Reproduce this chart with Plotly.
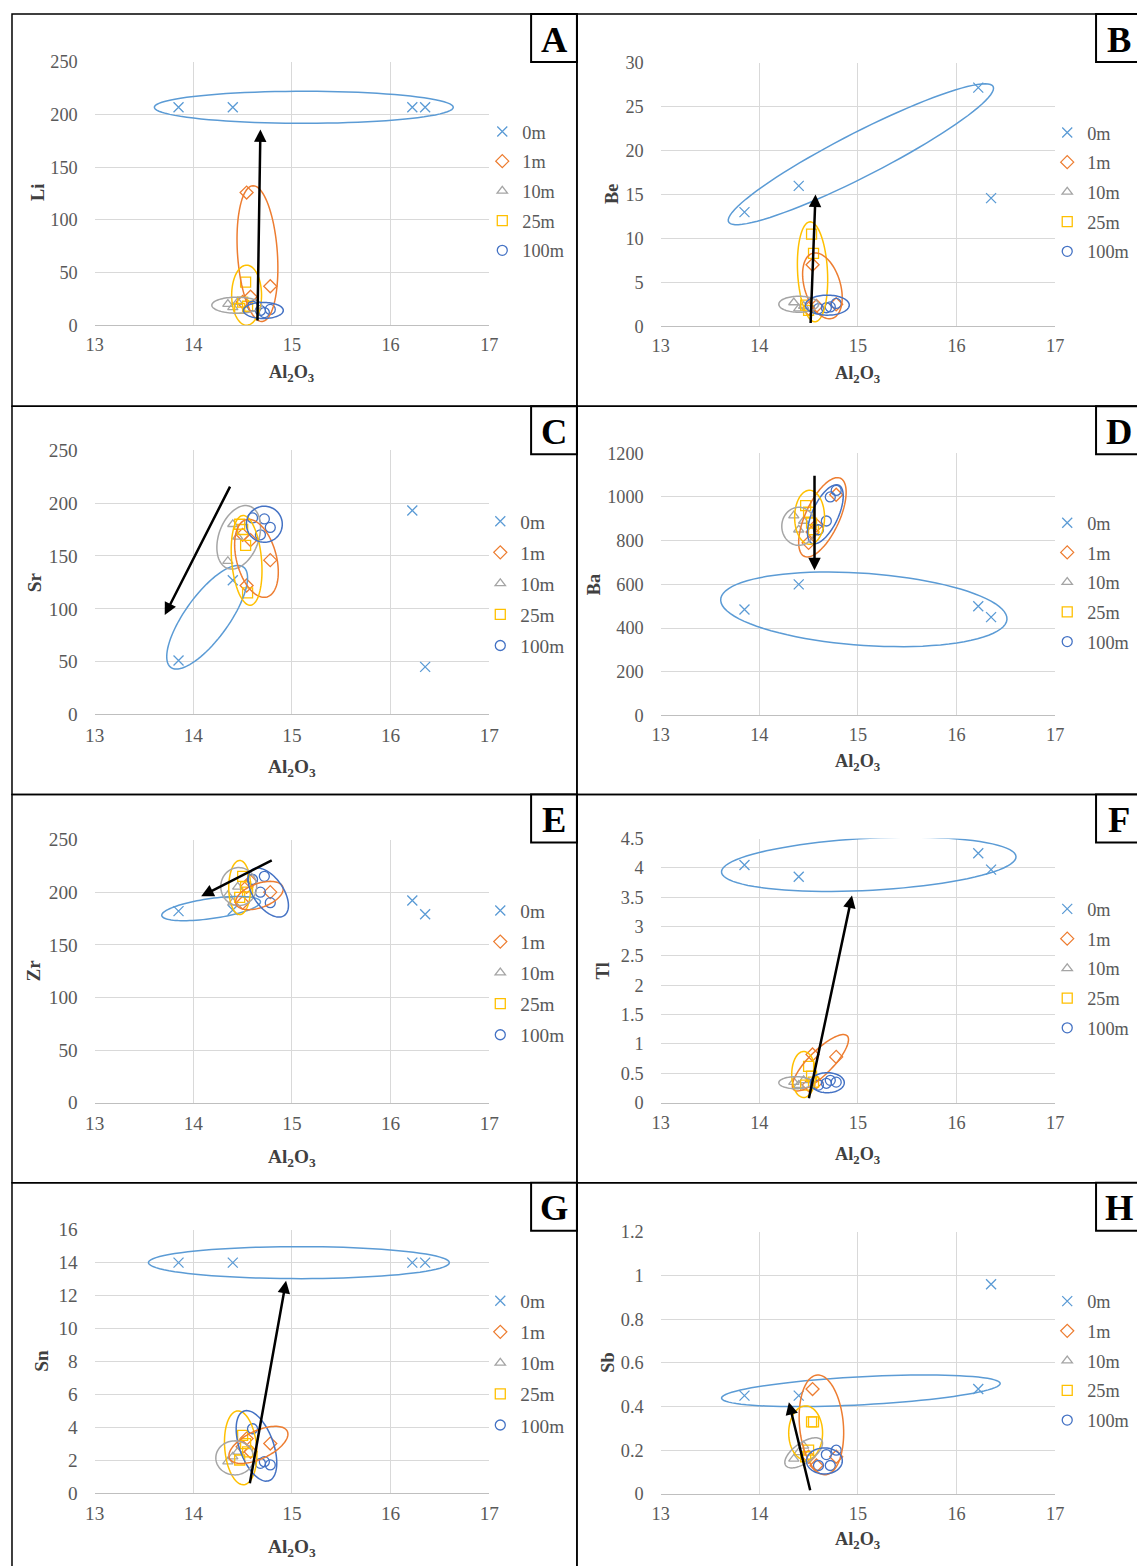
import numpy as np
import plotly.graph_objects as go

# ---------------- data ----------------
depths = ["0m", "1m", "10m", "25m", "100m"]
al2o3 = {
    "0m": [13.85, 14.4, 16.22, 16.35],
    "1m": [14.54, 14.78, 14.5, 14.58],
    "10m": [14.35, 14.4, 14.45],
    "25m": [14.47, 14.5, 14.53, 14.55],
    "100m": [14.6, 14.68, 14.72, 14.78],
}
li = {"0m": [207, 207, 207, 207], "1m": [126, 37, 22, 27], "10m": [20, 17, 22],
      "25m": [16, 22, 41, 18], "100m": [18, 14, 12, 15]}
be = {"0m": [13, 16, 27.2, 14.6], "1m": [7.0, 2.5, 2.0, 2.3], "10m": [2.7, 2.0, 2.3],
      "25m": [2.4, 1.8, 10.5, 8.3], "100m": [2.0, 2.1, 2.2, 2.6]}
sr = {"0m": [51, 127, 193, 45], "1m": [122, 146, 170, 165], "10m": [145, 180, 168],
      "25m": [180, 175, 160, 115], "100m": [186, 170, 185, 177]}
ba = {"0m": [485, 600, 500, 450], "1m": [840, 1010, 790, 870], "10m": [915, 850, 890],
      "25m": [960, 930, 880, 850], "100m": [850, 890, 1000, 1030]}
zr = {"0m": [182, 183, 192, 179], "1m": [205, 200, 190, 210], "10m": [197, 190, 205],
      "25m": [195, 215, 205, 200], "100m": [212, 200, 215, 190]}
tl = {"0m": [4.05, 3.85, 4.25, 3.97], "1m": [0.82, 0.78, 0.3, 0.35], "10m": [0.35, 0.3, 0.38],
      "25m": [0.3, 0.62, 0.45, 0.35], "100m": [0.3, 0.33, 0.38, 0.35]}
sn = {"0m": [14, 14, 14, 14], "1m": [3.3, 3.0, 2.8, 2.5], "10m": [1.9, 2.2, 2.5],
      "25m": [2.0, 3.5, 3.0, 2.5], "100m": [3.9, 1.8, 1.9, 1.7]}
sb = {"0m": [0.45, 0.45, 0.48, 0.96], "1m": [0.48, 0.17, 0.17, 0.13], "10m": [0.16, 0.19, 0.22],
      "25m": [0.17, 0.2, 0.33, 0.33], "100m": [0.13, 0.18, 0.13, 0.2]}

x_ticks = [13, 14, 15, 16, 17]

# ---------------- styles ----------------
OFF = 8            # page offset of the figure
S = 1137 / 1153    # observed page scale of the figure
FW, FH = 1146, 1582
colors = {"0m": "#5B9BD5", "1m": "#ED7D31", "10m": "#A5A5A5", "25m": "#FFC000", "100m": "#4472C4"}
symbols = {"0m": "x-thin-open", "1m": "diamond-open", "10m": "triangle-up-open",
           "25m": "square-open", "100m": "circle-open"}
msize = {"0m": 10, "1m": 10, "10m": 9, "25m": 10, "100m": 10}
SERIF = "Liberation Serif, Times New Roman, serif"
GRAY = "#595959"

# panel specs: plot area in page pixels (left, right, top, bottom)
panels = [
    dict(letter="A", name="Li", data=li, ymax=250, dtick=50, box=(93, 489, 60, 323),
         ytitle=(36, 190), xtitle=(291, 371), leg=(502, 131), fs=18,
         frame=(10, 577, 12, 404),
         ell=[("0m", 15.12, 207, 150, 16, 0), ("1m", 14.65, 68, 20, 68, 4),
              ("25m", 14.54, 28.5, 15, 30, 0), ("10m", 14.44, 19, 25, 8, 0),
              ("100m", 14.71, 14, 20, 8, 0)],
         arrow=(14.65, 3, 14.68, 186)),
    dict(letter="B", name="Be", data=be, ymax=30, dtick=5, box=(661, 1057, 61, 324),
         ytitle=(612, 192), xtitle=(859, 372), leg=(1069, 132), fs=18,
         frame=(577, 1150, 12, 404),
         ell=[("0m", 15.03, 19.6, 149, 22, 27), ("25m", 14.54, 6.2, 15, 50, 3),
              ("1m", 14.64, 4.6, 18, 34, 17), ("10m", 14.40, 2.5, 20, 8, 0),
              ("100m", 14.69, 2.4, 22, 10, 0)],
         arrow=(14.52, 0.2, 14.57, 15)),
    dict(letter="C", name="Sr", data=sr, ymax=250, dtick=50, box=(93, 489, 448, 712),
         ytitle=(32, 580), xtitle=(291, 766), leg=(500, 520), fs=19,
         frame=(10, 577, 404, 792),
         ell=[("0m", 14.14, 92, 62, 22, 54), ("10m", 14.46, 167.6, 20, 33, -20),
              ("1m", 14.64, 147.7, 20, 40, 15), ("25m", 14.54, 145.8, 15, 45, 5),
              ("100m", 14.72, 180, 18, 18, 0)],
         arrow=(14.38, 217, 13.71, 94)),
    dict(letter="D", name="Ba", data=ba, ymax=1200, dtick=200, box=(661, 1057, 451, 713),
         ytitle=(594, 582), xtitle=(859, 760), leg=(1069, 522), fs=18,
         frame=(577, 1150, 404, 792),
         ell=[("0m", 15.06, 485.6, 144, 36, -4), ("1m", 14.64, 907, 43, 17, 65),
              ("100m", 14.67, 920.7, 32, 13, 65), ("25m", 14.51, 907, 15, 27, 0),
              ("10m", 14.40, 865.8, 17, 19, 0)],
         arrow=(14.56, 1104, 14.56, 664)),
    dict(letter="E", name="Zr", data=zr, ymax=250, dtick=50, box=(93, 489, 837, 1100),
         ytitle=(32, 968), xtitle=(291, 1155), leg=(500, 909), fs=19,
         frame=(10, 577, 792, 1180),
         ell=[("0m", 14.18, 184.4, 50, 10, 8), ("25m", 14.47, 204.4, 11, 27, 0),
              ("10m", 14.46, 205.3, 18, 19, 0), ("1m", 14.67, 196.8, 25, 12, 20),
              ("100m", 14.76, 199.6, 15, 28, 35)],
         arrow=(14.81, 231, 14.08, 196)),
    dict(letter="F", name="Tl", data=tl, ymax=4.5, dtick=0.5, box=(661, 1057, 836, 1100),
         ytitle=(603, 968), xtitle=(859, 1153), leg=(1069, 908), fs=18,
         frame=(577, 1150, 792, 1180),
         ell=[("0m", 15.11, 4.06, 148, 26, 3), ("1m", 14.62, 0.68, 38, 12, 45),
              ("25m", 14.45, 0.48, 12, 23, 0), ("10m", 14.37, 0.34, 17, 6, 0),
              ("100m", 14.69, 0.34, 17, 10, 0)],
         arrow=(14.5, 0.05, 14.94, 3.53)),
    dict(letter="G", name="Sn", data=sn, ymax=16, dtick=2, box=(93, 489, 1227, 1490),
         ytitle=(40, 1358), xtitle=(291, 1545), leg=(500, 1299), fs=19,
         frame=(10, 577, 1180, 1600),
         ell=[("0m", 15.07, 14.0, 151, 16, 0), ("25m", 14.48, 2.74, 16, 37, 5),
              ("100m", 14.64, 2.86, 17, 37, 20), ("1m", 14.66, 2.92, 32, 14, 25),
              ("10m", 14.42, 2.13, 19, 17, 0)],
         arrow=(14.57, 0.5, 14.94, 12.9)),
    dict(letter="H", name="Sb", data=sb, ymax=1.2, dtick=0.2, box=(661, 1057, 1229, 1491),
         ytitle=(608, 1360), xtitle=(859, 1538), leg=(1069, 1300), fs=18,
         frame=(577, 1150, 1180, 1600),
         ell=[("0m", 15.03, 0.472, 140, 14, 3), ("1m", 14.63, 0.316, 22, 50, 5),
              ("25m", 14.47, 0.279, 17, 27, 0), ("10m", 14.45, 0.188, 22, 10, 35),
              ("100m", 14.66, 0.151, 18, 13, 0)],
         arrow=(14.52, 0.01, 14.3, 0.42)),
]

fig = go.Figure()
shapes, annotations = [], []
layout = dict(width=FW, height=FH, margin=dict(l=0, r=0, t=0, b=0), autosize=False,
              paper_bgcolor="white", plot_bgcolor="white", showlegend=True,
              font=dict(family=SERIF, color=GRAY))


def px_x(p):
    return ((p - OFF) / S) / FW


def px_y(p):
    return 1 - ((p - OFF) / S) / FH


def ellipse_path(cx, cy, a, b, ang, sx, sy):
    th = np.deg2rad(ang)
    t = np.linspace(0, 2 * np.pi, 90)
    dx = a * np.cos(t) * np.cos(th) - b * np.sin(t) * np.sin(th)
    dy = a * np.cos(t) * np.sin(th) + b * np.sin(t) * np.cos(th)
    xs = cx + dx / sx
    ys = cy + dy / sy
    pts = [f"{x:.5f},{y:.5f}" for x, y in zip(xs, ys)]
    return "M " + " L ".join(pts) + " Z"


for i, p in enumerate(panels):
    n = i + 1
    xa = "xaxis" if n == 1 else f"xaxis{n}"
    ya = "yaxis" if n == 1 else f"yaxis{n}"
    xr = "x" if n == 1 else f"x{n}"
    yr = "y" if n == 1 else f"y{n}"
    lg = "legend" if n == 1 else f"legend{n}"
    l, r, t, b = p["box"]
    fs = p["fs"] / S
    layout[xa] = dict(domain=[px_x(l), px_x(r)], range=[13, 17], tickvals=x_ticks,
                      anchor=yr, showgrid=True, gridcolor="#D9D9D9", gridwidth=1,
                      zeroline=False, showline=True, linecolor="#BFBFBF", linewidth=1,
                      mirror=False, ticks="", ticklabelstandoff=3,
                      tickfont=dict(family=SERIF, size=fs, color=GRAY), fixedrange=True)
    layout[ya] = dict(domain=[px_y(b), px_y(t)], range=[0, p["ymax"]], dtick=p["dtick"],
                      anchor=xr, showgrid=True, gridcolor="#D9D9D9", gridwidth=1,
                      zeroline=False, showline=False, ticks="", ticklabelstandoff=16,
                      tickfont=dict(family=SERIF, size=fs, color=GRAY), fixedrange=True)
    for d in depths:
        fig.add_trace(go.Scatter(
            x=al2o3[d], y=p["data"][d], mode="markers", name=d,
            xaxis=xr, yaxis=yr, legend=lg, legendgroup=f"{p['letter']}{d}",
            marker=dict(symbol=symbols[d], size=msize[d], color=colors[d],
                        line=dict(color=colors[d], width=1.3)),
            hoverinfo="x+y+name"))
    lx, ly = p["leg"]
    layout[lg] = dict(x=px_x(lx - 20), y=px_y(ly - 20), xanchor="left", yanchor="top",
                      bgcolor="rgba(0,0,0,0)", borderwidth=0, tracegroupgap=3,
                      font=dict(family=SERIF, size=fs, color=GRAY))
    # ellipses (semi-axes given in page pixels, converted to data units)
    sx = (r - l) / 4.0
    sy = (b - t) / p["ymax"]
    for d, cx, cy, a, bb, ang in p["ell"]:
        shapes.append(dict(type="path", xref=xr, yref=yr,
                           path=ellipse_path(cx, cy, a, bb, ang, sx, sy),
                           line=dict(color=colors[d], width=1.5), fillcolor="rgba(0,0,0,0)",
                           layer="above"))
    # arrow
    x0, y0, x1, y1 = p["arrow"]
    annotations.append(dict(x=x1, y=y1, ax=x0, ay=y0, xref=xr, yref=yr, axref=xr, ayref=yr,
                            showarrow=True, arrowhead=2, arrowsize=1, arrowwidth=2.5,
                            arrowcolor="black", text=""))
    # axis titles
    tx, ty = p["ytitle"]
    annotations.append(dict(x=px_x(tx), y=px_y(ty), xref="paper", yref="paper",
                            xanchor="center", yanchor="middle",
                            text=f"<b>{p['name']}</b>", textangle=-90, showarrow=False,
                            font=dict(family=SERIF, size=fs, color="#404040")))
    tx, ty = p["xtitle"]
    annotations.append(dict(x=px_x(tx), y=px_y(ty), xref="paper", yref="paper",
                            xanchor="center", yanchor="middle",
                            text="<b>Al<sub>2</sub>O<sub>3</sub></b>", showarrow=False,
                            font=dict(family=SERIF, size=fs, color="#404040")))
    # panel frame
    fl, fr, ft, fb = p["frame"]
    shapes.append(dict(type="rect", xref="paper", yref="paper", x0=px_x(fl), x1=px_x(fr),
                       y0=px_y(fb), y1=px_y(ft), line=dict(color="black", width=1.5),
                       fillcolor="rgba(0,0,0,0)", layer="above"))
    # letter box (right column boxes run off the page edge)
    bl = fr - 46 if fr < 1137 else 1098
    br = fr if fr < 1137 else 1160
    shapes.append(dict(type="rect", xref="paper", yref="paper", x0=px_x(bl),
                       x1=px_x(br), y0=px_y(ft + 48), y1=px_y(ft),
                       line=dict(color="black", width=2), fillcolor="white", layer="above"))
    annotations.append(dict(x=px_x(bl + 23), y=px_y(ft + 25), xref="paper", yref="paper",
                            text=f"<b>{p['letter']}</b>", showarrow=False,
                            xanchor="center", yanchor="middle",
                            font=dict(family=SERIF, size=36 / S, color="black")))

layout["shapes"] = shapes
layout["annotations"] = annotations
fig.update_layout(**layout)
fig.write_html("out.html")
